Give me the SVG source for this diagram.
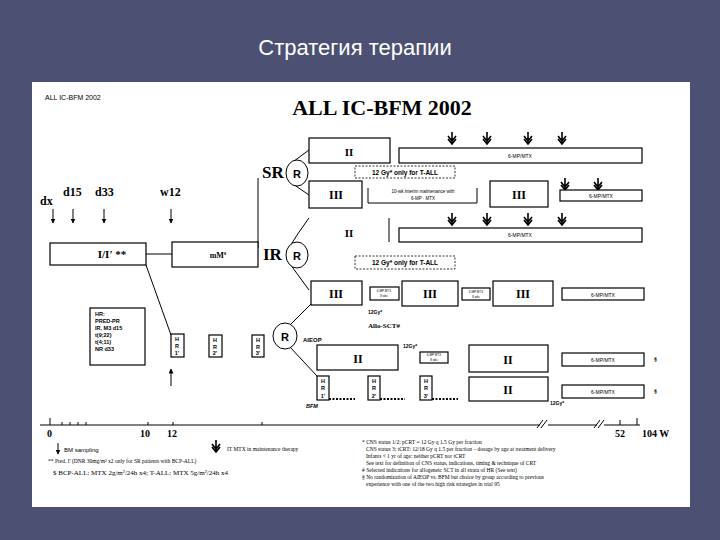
<svg xmlns="http://www.w3.org/2000/svg" width="720" height="540" viewBox="0 0 720 540">
<style>
.b{fill:#fff;stroke:#000;stroke-width:1.2}
.d{fill:#fff;stroke:#000;stroke-width:0.8;stroke-dasharray:2 1.5}
.s{font-family:"Liberation Serif",serif;font-weight:bold;fill:#000}
.a{font-family:"Liberation Sans",sans-serif;fill:#000}
.l{fill:none;stroke:#000;stroke-width:1}
.r{fill:#fff;stroke:#000;stroke-width:1}
</style>
<defs>
<marker id="ah" viewBox="0 0 10 10" refX="9" refY="5" markerWidth="5" markerHeight="5" orient="auto"><path d="M0,0L10,5L0,10z" fill="#000"/></marker>
<g id="fat"><path d="M-4,0L0,5L4,0M-4,3L0,8L4,3M0,-4V8" fill="none" stroke="#000" stroke-width="1.6"/></g>
</defs>
<rect width="720" height="540" fill="#4c5072"/>
<text x="355" y="55" text-anchor="middle" class="a" style="fill:#fff;font-size:22px">Стратегия терапии</text>
<rect x="32" y="82" width="658" height="425" fill="#fff"/>
<text x="45" y="100" class="a" font-size="7">ALL IC-BFM 2002</text>
<text x="382" y="115" text-anchor="middle" class="s" font-size="22">ALL IC-BFM 2002</text>

<g id="connectors">
<path class="l" d="M40,425H540M548,425H597M604,425H640M50,418V425M62,422V425M70,422V425M78,422V425M86,422V425M148,422V425M173,422V425M262,422V425M620,420V425M637,418V425"/>
<path class="l" d="M537,428L543,420M541,428L547,420M594,428L600,420M598,428L604,420"/>
<path class="l" d="M146,254H172M258,248V178M146,265L171,335"/>
<path class="l" d="M290,164L309,150M290,182L309,195M290,246Q300,230 309,218M290,264L309,290M289,326L311,304M289,346L317,376"/>
<path class="l" d="M389,218V242M477,188V203"/>
<line class="l" x1="53" y1="209" x2="53" y2="223" marker-end="url(#ah)"/>
<line class="l" x1="73" y1="209" x2="73" y2="223" marker-end="url(#ah)"/>
<line class="l" x1="104" y1="209" x2="104" y2="223" marker-end="url(#ah)"/>
<line class="l" x1="171" y1="209" x2="171" y2="223" marker-end="url(#ah)"/>
<line class="l" x1="171" y1="386" x2="171" y2="369" marker-end="url(#ah)"/>
<line class="l" x1="58" y1="443" x2="58" y2="454" marker-end="url(#ah)"/>
<path class="d" d="M329,399H355M380,399H405M432,399H458" style="stroke-width:2"/>
</g>

<g id="arrows">
<use href="#fat" x="452" y="136"/><use href="#fat" x="487" y="136"/><use href="#fat" x="528" y="136"/><use href="#fat" x="562" y="136"/>
<use href="#fat" x="565" y="182"/><use href="#fat" x="598" y="182"/>
<use href="#fat" x="452" y="217"/><use href="#fat" x="487" y="217"/><use href="#fat" x="528" y="217"/><use href="#fat" x="562" y="217"/>
<use href="#fat" x="216" y="444"/>
</g>

<g id="timepoints" class="s" font-size="12">
<text x="40" y="205">dx</text><text x="63" y="196">d15</text><text x="95" y="196">d33</text><text x="160" y="196">w12</text>
</g>

<g id="induction"><rect class="b" x="50" y="243" width="96" height="22"/><text x="112" y="258" text-anchor="middle" class="s" font-size="11">I/I' **</text></g>
<g id="mM"><rect class="b" x="172" y="242" width="86" height="25"/><text x="218" y="258" text-anchor="middle" class="s" font-size="8" font-weight="normal">mM<tspan dy="-3" font-size="5">$</tspan></text></g>

<g id="SR">
<text x="262" y="178" class="s" font-size="17" font-weight="normal">SR</text>
<ellipse class="r" cx="297" cy="173" rx="11" ry="13"/><text x="297" y="178" text-anchor="middle" class="a" font-weight="bold" font-size="11">R</text>
<rect class="b" x="309" y="138" width="81" height="25"/><text x="349" y="156" text-anchor="middle" class="s" font-size="11">II</text>
<rect class="d" x="355" y="166" width="100" height="12"/><text x="405" y="175" text-anchor="middle" class="a" font-size="6.5" font-weight="bold">12 Gy* only for T-ALL</text>
<rect class="b" x="309" y="181" width="53" height="27"/><text x="336" y="199" text-anchor="middle" class="s" font-size="12">III</text>
<rect class="b" x="399" y="148" width="243" height="15"/><text x="520" y="158" text-anchor="middle" class="a" font-size="5">6-MP/MTX</text>
<path class="l" d="M368,188V203H477"/>
<text x="423" y="193" text-anchor="middle" class="a" font-size="4.5">10-wk interim maintenance with</text><text x="423" y="200" text-anchor="middle" class="a" font-size="4.5">6-MP · MTX</text>
<rect class="b" x="490" y="181" width="58" height="26"/><text x="519" y="199" text-anchor="middle" class="s" font-size="12">III</text>
<rect class="b" x="560" y="190" width="82" height="11"/><text x="601" y="198" text-anchor="middle" class="a" font-size="5">6-MP/MTX</text>
</g>

<g id="IR">
<text x="263" y="260" class="s" font-size="17" font-weight="normal">IR</text>
<ellipse class="r" cx="297" cy="255" rx="11" ry="13"/><text x="297" y="260" text-anchor="middle" class="a" font-weight="bold" font-size="11">R</text>
<text x="349" y="237" text-anchor="middle" class="s" font-size="11">II</text>
<rect class="b" x="399" y="228" width="243" height="14"/><text x="520" y="237" text-anchor="middle" class="a" font-size="5">6-MP/MTX</text>
<rect class="d" x="355" y="256" width="100" height="13"/><text x="405" y="265" text-anchor="middle" class="a" font-size="6.5" font-weight="bold">12 Gy* only for T-ALL</text>
</g>

<g id="HRrow1">
<rect class="b" x="311" y="281" width="51" height="24"/><text x="336" y="298" text-anchor="middle" class="s" font-size="12">III</text>
<rect class="b" x="370" y="287" width="29" height="13"/><text x="384" y="292" text-anchor="middle" class="a" font-size="3">6-MP MTX</text><text x="384" y="297" text-anchor="middle" class="a" font-size="3">8 wks</text>
<rect class="b" x="402" y="281" width="56" height="25"/><text x="430" y="298" text-anchor="middle" class="s" font-size="12">III</text>
<rect class="b" x="462" y="288" width="28" height="12"/><text x="476" y="293" text-anchor="middle" class="a" font-size="3">6-MP MTX</text><text x="476" y="298" text-anchor="middle" class="a" font-size="3">8 wks</text>
<rect class="b" x="493" y="281" width="60" height="25"/><text x="523" y="298" text-anchor="middle" class="s" font-size="12">III</text>
<rect class="b" x="562" y="288" width="82" height="12"/><text x="603" y="297" text-anchor="middle" class="a" font-size="5">6-MP/MTX</text>
<text x="368" y="314" class="a" font-size="5" font-weight="bold">12Gy*</text>
<text x="368" y="328" class="s" font-size="7">Allo-SCT#</text>
</g>

<g id="HRcriteria">
<rect class="b" x="90" y="308" width="55" height="57"/>
<g class="a" font-size="5.5" font-weight="bold"><text x="95" y="316">HR:</text><text x="95" y="323">PRED-PR</text><text x="95" y="330">IR, M3 d15</text><text x="95" y="337">t(9;22)</text><text x="95" y="344">t(4;11)</text><text x="95" y="351">NR d33</text></g>
</g>

<g id="HRblocks" class="a" font-size="5.5" font-weight="bold" text-anchor="middle">
<rect class="b" x="171" y="334" width="13" height="23"/><text x="177" y="341">H</text><text x="177" y="348">R</text><text x="177" y="355">1'</text>
<rect class="b" x="209" y="335" width="13" height="22"/><text x="215" y="342">H</text><text x="215" y="349">R</text><text x="215" y="355">2'</text>
<rect class="b" x="252" y="335" width="12" height="22"/><text x="258" y="342">H</text><text x="258" y="349">R</text><text x="258" y="355">3'</text>
</g>
<g id="HR_R"><ellipse class="r" cx="285" cy="336" rx="12" ry="13"/><text x="285" y="341" text-anchor="middle" class="a" font-weight="bold" font-size="11">R</text></g>

<g id="AIEOP">
<text x="303" y="342" class="a" font-size="6" font-weight="bold">AIEOP</text>
<rect class="b" x="317" y="345" width="81" height="25"/><text x="358" y="363" text-anchor="middle" class="s" font-size="12">II</text>
<text x="403" y="348" class="a" font-size="5" font-weight="bold">12Gy*</text>
<rect class="b" x="420" y="352" width="28" height="11"/><text x="434" y="356" text-anchor="middle" class="a" font-size="3">6-MP MTX</text><text x="434" y="361" text-anchor="middle" class="a" font-size="3">8 wks</text>
<rect class="b" x="469" y="345" width="79" height="27"/><text x="508" y="364" text-anchor="middle" class="s" font-size="12">II</text>
<rect class="b" x="562" y="353" width="82" height="13"/><text x="603" y="362" text-anchor="middle" class="a" font-size="5">6-MP/MTX</text>
<text x="654" y="361" class="s" font-size="6">§</text>
</g>

<g id="BFM">
<g class="a" font-size="5.5" font-weight="bold" text-anchor="middle">
<rect class="b" x="317" y="376" width="12" height="24"/><text x="323" y="383">H</text><text x="323" y="390">R</text><text x="323" y="398">1'</text>
<rect class="b" x="368" y="376" width="12" height="24"/><text x="374" y="383">H</text><text x="374" y="390">R</text><text x="374" y="398">2'</text>
<rect class="b" x="420" y="376" width="12" height="24"/><text x="426" y="383">H</text><text x="426" y="390">R</text><text x="426" y="398">3'</text>
</g>
<text x="306" y="408" class="a" font-size="5.5" font-style="italic" font-weight="bold">BFM</text>
<rect class="b" x="469" y="377" width="79" height="24"/><text x="508" y="394" text-anchor="middle" class="s" font-size="12">II</text>
<rect class="b" x="562" y="385" width="82" height="13"/><text x="603" y="394" text-anchor="middle" class="a" font-size="5">6-MP/MTX</text>
<text x="550" y="405" class="a" font-size="5" font-weight="bold">12Gy*</text>
<text x="654" y="393" class="s" font-size="6">§</text>
</g>

<g id="axis" class="s" font-size="10">
<text x="47" y="437">0</text><text x="140" y="437">10</text><text x="167" y="437">12</text><text x="615" y="437">52</text><text x="642" y="437">104 W</text>
</g>

<g id="legend" font-family="Liberation Serif,serif" font-size="5.5">
<text x="64" y="452" class="a" font-size="6">BM sampling</text>
<text x="227" y="451">IT MTX in maintenance therapy</text>
<text x="48" y="463">** Pred. I' (DNR 30mg/m² x2 only for SR patients with BCP-ALL)</text>
<text x="53" y="475" font-size="7">$ BCP-ALL: MTX 2g/m²/24h x4; T-ALL: MTX 5g/m²/24h x4</text>
<text x="362" y="444">* CNS status 1/2: pCRT = 12 Gy q 1.5 Gy per fraction</text>
<text x="366" y="451">CNS status 3: tCRT: 12/18 Gy q 1.5 per fraction – dosage by age at treatment delivery</text>
<text x="366" y="458">Infants &lt; 1 yr of age: neither pCRT nor tCRT</text>
<text x="366" y="465">See text for definition of CNS status, indications, timing &amp; technique of CRT</text>
<text x="362" y="472"># Selected indications for allogeneic SCT in all strata of HR (See text)</text>
<text x="362" y="479">§ No randomization of AIEOP vs. BFM but choice by group according to previous</text>
<text x="366" y="486">experience with one of the two high risk strategies in trial 95</text>
</g>
</svg>
